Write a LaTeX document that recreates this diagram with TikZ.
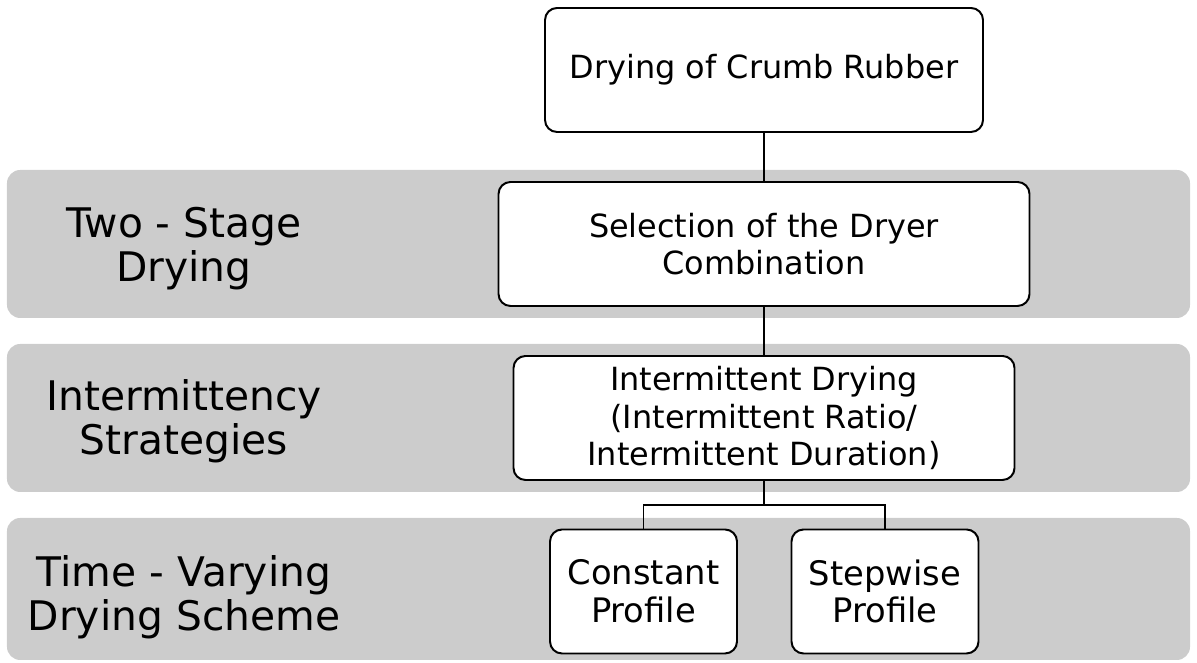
\documentclass[tikz,border=0pt]{standalone}
\usepackage{fontspec}
\setmainfont{DejaVu Sans}
\definecolor{bandgray}{HTML}{CCCCCC}
\tikzset{   block/.style = {draw, fill=white, line width=1.4pt, rectangle, rounded corners=0.3cm, minimum height=3.1cm, align=center, inner sep=0pt, font=\fontsize{22.7}{26.7}\selectfont},
            small/.style = {block, minimum width=4.675cm, font=\fontsize{24}{26.8}\selectfont},
            band/.style = {fill=bandgray, rectangle, rounded corners=0.33cm, inner sep=0pt, minimum width=29.575cm},
            stage/.style = {align=center, inner sep=0pt, font=\fontsize{29}{31.3}\selectfont},
            link/.style = {line width=1.4pt}}

\begin{document}
\begin{tikzpicture}
    \useasboundingbox(0,0)rectangle(29.925,16.575);
    % grey bands
    \node[band, minimum height=3.7cm](r1)at(14.9625,10.475){};
    \node[band, minimum height=3.7cm](r2)at(14.9625,6.125){};
    \node[band, minimum height=3.55cm](r3)at(14.9625,1.85){};
    \node[stage](l1)at(4.6,10.35){Two - Stage\\Drying};
    \node[stage](l2)at(4.6,6.05){Intermittency\\Strategies};
    \node[stage](l3)at(4.6,1.65){Time - Varying\\Drying Scheme};

    \node[block, minimum width=10.95cm](t)at(19.1,14.825){Drying of Crumb Rubber};
    \node[block, minimum width=13.275cm](c)at(19.1,10.475){Selection of the Dryer\\Combination};
    \node[block, minimum width=12.525cm](s)at(19.1,6.125){Intermittent Drying\\(Intermittent Ratio/\\Intermittent Duration)};
    \node[small](p1)at(16.0875,1.7875){Constant\\Profile};
    \node[small](p2)at(22.125,1.7875){Stepwise\\Profile};
    \coordinate(j)at(19.1,3.95);

    \draw[link](t.270)--(t.270|-c.90);
    \draw[link](c.270)--(c.270|-s.90);
    \draw[link](s.270)--(j);
    \draw[link](p1.90)|-(j)-|(p2.90);
\end{tikzpicture}
\end{document}
